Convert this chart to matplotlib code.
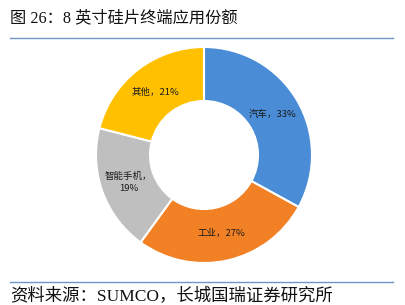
import matplotlib.pyplot as plt
import numpy as np

plt.rcParams['font.family'] = ['Noto Sans CJK SC', 'DejaVu Sans']

# data
labels = ['汽车', '工业', '智能手机', '其他']
shares = [33, 27, 19, 21]
colors = ['#4A8CD6', '#F28125', '#BFBFBF', '#FFC000']

title = '图 26：8 英寸硅片终端应用份额'
source = '资料来源：SUMCO，长城国瑞证券研究所'

W, H = 405, 305
fig = plt.figure(figsize=(W / 100, H / 100), dpi=100)

# pie axes: centre (204,155) px, radius 108 px
cx, cy, r = 204, 155, 108
ax = fig.add_axes([(cx - r) / W, (H - cy - r) / H, 2 * r / W, 2 * r / H])
wedges, _ = ax.pie(shares, colors=colors, startangle=90, counterclock=False,
                   radius=1.0, wedgeprops=dict(width=0.5, edgecolor='white', linewidth=1.5))
ax.set_xlim(-1, 1)
ax.set_ylim(-1, 1)
ax.set_aspect('equal')

for w, lab, v in zip(wedges, labels, shares):
    ang = np.deg2rad((w.theta1 + w.theta2) / 2)
    x, y = 0.74 * np.cos(ang), 0.74 * np.sin(ang)
    if lab == '智能手机':
        txt = f'{lab}，\n{v}%'
    else:
        txt = f'{lab}，{v}%'
    ax.text(x, y, txt, ha='center', va='center', fontsize=6.8, color='#1a1a1a',
            linespacing=1.4)

serif = ['Liberation Serif', 'Noto Sans CJK SC']
fig.text(10 / W, 1 - 18 / H, title, fontsize=11.7, ha='left', va='center',
         family=serif, color='#111111')
fig.text(10 / W, 1 - 297 / H, source, fontsize=12.5, ha='left', va='center',
         family=serif, color='#111111')

line_col = '#6F94C8'
fig.add_artist(plt.Line2D([10 / W, 393 / W], [1 - 38 / H, 1 - 38 / H],
                          color=line_col, lw=1.0))
fig.add_artist(plt.Line2D([10 / W, 393 / W], [1 - 282 / H, 1 - 282 / H],
                          color=line_col, lw=1.0))

fig.savefig('out.png', dpi=100)
